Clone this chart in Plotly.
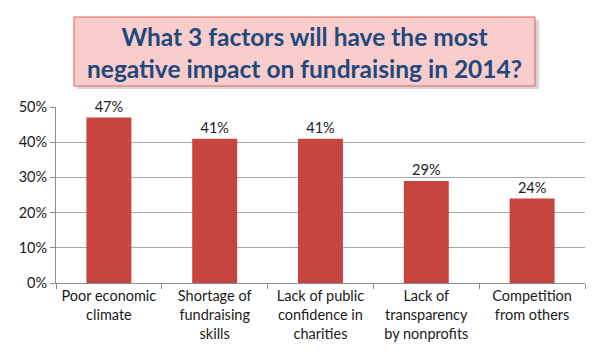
import plotly.graph_objects as go

categories = [
    "Poor economic<br>climate",
    "Shortage of<br>fundraising<br>skills",
    "Lack of public<br>confidence in<br>charities",
    "Lack of<br>transparency<br>by nonprofits",
    "Competition<br>from others",
]
values = [0.47, 0.41, 0.41, 0.29, 0.24]
value_labels = ["47%", "41%", "41%", "29%", "24%"]
y_ticks = [0, 0.1, 0.2, 0.3, 0.4, 0.5]
y_tick_labels = ["0%", "10%", "20%", "30%", "40%", "50%"]
title_text = "What 3 factors will have the most<br>negative impact on fundraising in 2014?"

FONT = "Lato, 'Open Sans', sans-serif"

fig = go.Figure(
    go.Bar(
        x=categories,
        y=values,
        text=value_labels,
        textposition="outside",
        cliponaxis=False,
        textfont=dict(family=FONT, size=14.5, color="#1a1a1a"),
        marker=dict(color="#C7453F", line=dict(width=0)),
        hoverinfo="skip",
    )
)

# page body has an 8px offset; plot area should sit at x 56..585, y 107..283 on the page
fig.update_layout(
    width=600,
    height=360,
    margin=dict(l=48, r=23, t=99, b=85),
    paper_bgcolor="white",
    plot_bgcolor="white",
    bargap=0.575,
    showlegend=False,
    font=dict(family=FONT, size=14.5, color="#1a1a1a"),
)

fig.update_xaxes(
    showline=True,
    linecolor="#8C8C8C",
    linewidth=1,
    ticks="outside",
    tickson="boundaries",
    ticklen=5,
    tickcolor="#8C8C8C",
    showgrid=False,
    automargin=False,
    tickfont=dict(family=FONT, size=14.5, color="#1a1a1a"),
)
fig.update_yaxes(
    range=[0, 0.5],
    tickvals=y_ticks,
    ticktext=y_tick_labels,
    showline=True,
    linecolor="#8C8C8C",
    linewidth=1,
    ticks="outside",
    ticklen=5,
    tickcolor="#8C8C8C",
    showgrid=True,
    gridcolor="#A6A6A6",
    gridwidth=1,
    zeroline=False,
    automargin=False,
    tickfont=dict(family=FONT, size=14.5, color="#1a1a1a"),
)

# title box shadow and box (paper coords relative to the plot area)
fig.add_shape(type="rect", xref="paper", yref="paper",
              x0=(77 - 56) / 529, x1=(539 - 56) / 529,
              y0=(283 - 89) / 176, y1=(283 - 20) / 176,
              fillcolor="rgba(0,0,0,0.16)", line=dict(width=0), layer="above")
fig.add_shape(type="rect", xref="paper", yref="paper",
              x0=(74 - 56) / 529, x1=(535 - 56) / 529,
              y0=(283 - 86) / 176, y1=(283 - 17) / 176,
              fillcolor="#F9CDCB", line=dict(color="#E0615A", width=1), layer="above")

fig.add_annotation(
    text=title_text,
    xref="paper", yref="paper",
    x=(304 - 56) / 529, y=(283 - 52) / 176,
    xanchor="center", yanchor="middle",
    showarrow=False,
    align="center",
    font=dict(family=FONT, size=24.5, color="#1F497D", weight="bold"),
)

fig.write_html("out.html")
